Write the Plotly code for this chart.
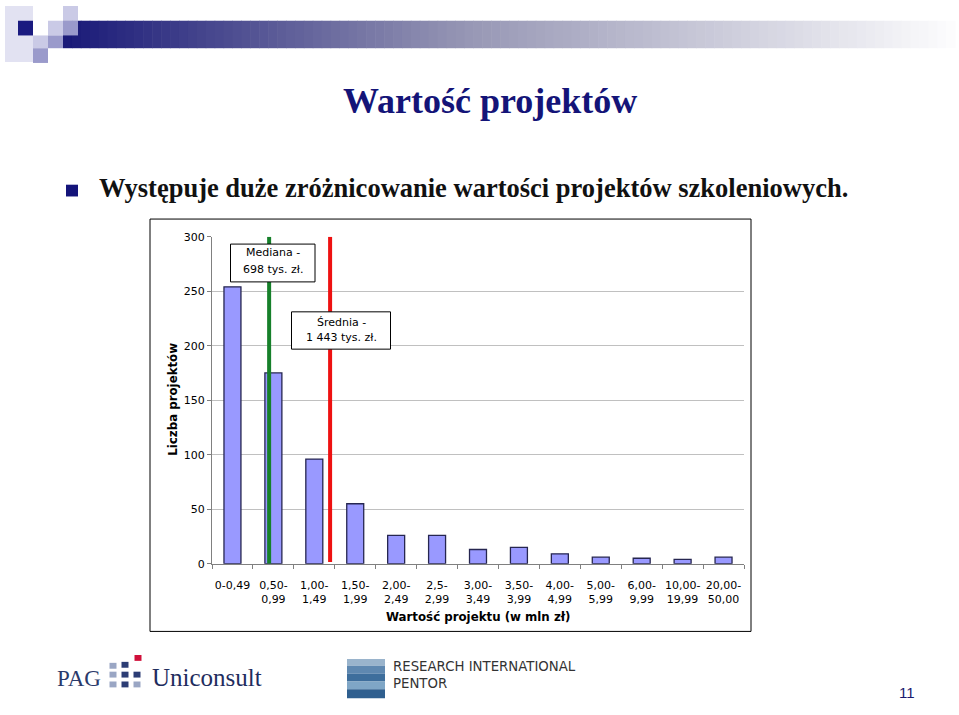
import plotly.graph_objects as go

# ---------------- data ----------------
categories = ["0-0,49", "0,50-0,99", "1,00-1,49", "1,50-1,99", "2,00-2,49", "2,5-2,99",
              "3,00-3,49", "3,50-3,99", "4,00-4,99", "5,00-5,99", "6,00-9,99",
              "10,00-19,99", "20,00-50,00"]
tick_labels = ["0-0,49", "0,50-<br>0,99", "1,00-<br>1,49", "1,50-<br>1,99", "2,00-<br>2,49",
               "2,5-<br>2,99", "3,00-<br>3,49", "3,50-<br>3,99", "4,00-<br>4,99",
               "5,00-<br>5,99", "6,00-<br>9,99", "10,00-<br>19,99", "20,00-<br>50,00"]
bin_low = [0, 0.5, 1.0, 1.5, 2.0, 2.5, 3.0, 3.5, 4.0, 5.0, 6.0, 10.0, 20.0]
bin_high = [0.5, 1.0, 1.5, 2.0, 2.5, 3.0, 3.5, 4.0, 5.0, 6.0, 10.0, 20.0, 50.0]
project_counts = [254, 175, 96, 55, 26, 26, 13, 15, 9, 6, 5, 4, 6]
y_ticks = [0, 50, 100, 150, 200, 250, 300]
median_mln = 0.698
mean_mln = 1.443
median_label = ["Mediana -", "698 tys. zł."]
mean_label = ["Średnia -", "1 443 tys. zł."]

W, H = 959, 715


def px(x):
    return x / W


def py(y):
    return 1 - y / H


def cat_pos(v):
    for i, (lo, hi) in enumerate(zip(bin_low, bin_high)):
        if lo <= v < hi:
            return i - 0.5 + (v - lo) / (hi - lo)
    return len(bin_low) - 0.5


median_x = cat_pos(median_mln)
mean_x = cat_pos(mean_mln)

fig = go.Figure()
fig.add_trace(go.Bar(
    x=categories, y=project_counts,
    marker=dict(color="#9999ff", line=dict(color="#262650", width=1.3)),
    hoverinfo="x+y", showlegend=False,
))

shapes = []

# chart frame
shapes.append(dict(type="rect", xref="paper", yref="paper", x0=px(150), x1=px(751),
                   y0=py(637), y1=py(217), line=dict(color="#000000", width=1),
                   fillcolor="white", layer="below"))

# median / mean lines
shapes.append(dict(type="line", xref="x", yref="y", x0=median_x, x1=median_x, y0=0, y1=300,
                   line=dict(color="#16802a", width=4), layer="above"))
shapes.append(dict(type="line", xref="x", yref="y", x0=mean_x, x1=mean_x, y0=1.5, y1=300,
                   line=dict(color="#ee1111", width=4), layer="above"))

# label boxes (drawn above the lines)
for x0, x1, y0, y1 in [(230.5, 315, 242.5, 281), (291.5, 390.5, 311.5, 349.5)]:
    shapes.append(dict(type="rect", xref="paper", yref="paper", x0=px(x0), x1=px(x1),
                       y0=py(y1), y1=py(y0), line=dict(color="black", width=1),
                       fillcolor="white", layer="above"))

# ---- top decoration: gradient bar ----
def lerp(a, b, t):
    return tuple(int(round(a[i] + (b[i] - a[i]) * t)) for i in range(3))


c0, cm, c1 = (26, 26, 120), (150, 150, 180), (252, 252, 253)
x_start, x_end, n = 63, 955, 100
step = (x_end - x_start) / n
for i in range(n):
    t = i / (n - 1)
    c = lerp(c0, cm, t / 0.45) if t < 0.45 else lerp(cm, c1, (t - 0.45) / 0.55)
    shapes.append(dict(type="rect", xref="paper", yref="paper",
                       x0=px(x_start + i * step), x1=px(x_start + (i + 1) * step + 0.6),
                       y0=py(43), y1=py(15), line=dict(width=0),
                       fillcolor="rgb(%d,%d,%d)" % c, layer="below"))

# left squares
sq = [
    (5, 33, 0, 57, "#e2e2f2"),
    (18, 33, 15, 30, "#1a1a80"),
    (33, 48, 30, 43, "#cacae6"),
    (33, 48, 43, 58, "#9a9acb"),
    (48, 63, 15, 30, "#cacae6"),
    (48, 63, 30, 43, "#9a9acb"),
    (63, 78, 0, 15, "#cacae6"),
    (63, 78, 15, 30, "#9a9acb"),
]
for x0, x1, y0, y1, col in sq:
    shapes.append(dict(type="rect", xref="paper", yref="paper", x0=px(x0), x1=px(x1),
                       y0=py(y1), y1=py(y0), line=dict(width=0), fillcolor=col, layer="below"))

# bullet square
shapes.append(dict(type="rect", xref="paper", yref="paper", x0=px(66), x1=px(78),
                   y0=py(194), y1=py(182), line=dict(width=0), fillcolor="#14147a", layer="below"))

# PAG logo dots
dots = [
    (113, 672, "#9aa6c4"), (125, 671, "#2c3d75"),
    (113, 681, "#9aa6c4"), (125, 681, "#2c3d75"), (137, 681, "#2c3d75"),
    (113, 691, "#9aa6c4"), (125, 691, "#2c3d75"), (137, 691, "#9aa6c4"),
    (138, 664, "#d0103a"),
]
for cx, cy, col in dots:
    shapes.append(dict(type="rect", xref="paper", yref="paper", x0=px(cx - 3.5), x1=px(cx + 3.5),
                       y0=py(cy + 3), y1=py(cy - 3), line=dict(width=0), fillcolor=col, layer="below"))

# Pentor picture
pic = [(665, 672, "#9ab4cc"), (672, 680, "#5f88b0"), (680, 688, "#3e6e9c"),
       (688, 696, "#7fa6c6"), (696, 705, "#2f5f8f")]
for y0, y1, col in pic:
    shapes.append(dict(type="rect", xref="paper", yref="paper", x0=px(347), x1=px(385),
                       y0=py(y1), y1=py(y0), line=dict(width=0), fillcolor=col, layer="below"))


def ann(text, x, y, size, color="black", family="DejaVu Sans", xanchor="center", **kw):
    d = dict(text=text, x=px(x), y=py(y), xref="paper", yref="paper", showarrow=False,
             xanchor=xanchor, yanchor="middle",
             font=dict(family=family, size=size, color=color))
    d.update(kw)
    return d


annotations = [
    ann("<b>Wartość projektów</b>", 490, 97, 36, "#141478", "Liberation Serif"),
    ann("<b>Występuje duże zróżnicowanie wartości projektów szkoleniowych.</b>", 97, 185,
        26.5, "#111111", "Liberation Serif", xanchor="left"),
    ann(median_label[0], 273, 251, 11),
    ann(median_label[1], 273, 268.5, 11),
    ann(mean_label[0], 341, 322, 11),
    ann(mean_label[1], 341, 338, 11),
    ann("<b>Liczba projektów</b>", 173, 401, 11.8, textangle=-90),
    ann("<b>Wartość projektu (w mln zł)</b>", 478, 622, 11.8),
    # logos
    ann("PAG", 55, 685, 23, "#2b3a6b", "Liberation Serif", xanchor="left"),
    ann("Uniconsult", 150, 684, 25, "#1f2d5e", "Liberation Serif", xanchor="left"),
    ann("RESEARCH INTERNATIONAL", 391, 673, 13.3, "#333333", xanchor="left"),
    ann("PENTOR", 391, 690, 13.3, "#333333", xanchor="left"),
    ann("11", 907, 699, 15, "#1a1a6e", "Liberation Sans"),
]

fig.update_layout(
    width=W, height=H,
    margin=dict(l=0, r=0, t=0, b=0),
    paper_bgcolor="white", plot_bgcolor="rgba(0,0,0,0)",
    bargap=0.585,
    shapes=shapes,
    annotations=annotations,
    xaxis=dict(domain=[px(212), px(744)], type="category",
               tickvals=categories, ticktext=tick_labels, tickangle=0,
               tickfont=dict(family="DejaVu Sans", size=11, color="black"),
               ticks="outside", ticklen=4, tickcolor="#808080", tickson="boundaries",
               ticklabelstandoff=11,
               showline=True, linecolor="#808080", linewidth=1, showgrid=False,
               range=[-0.5, 12.5], fixedrange=True),
    yaxis=dict(domain=[py(568), py(235)], range=[0, 300], tickvals=y_ticks,
               tickfont=dict(family="DejaVu Sans", size=11, color="black"),
               ticks="outside", ticklen=4, tickcolor="#808080",
               showline=True, linecolor="#808080", linewidth=1,
               showgrid=True, gridcolor="#c0c0c0", gridwidth=1, zeroline=False,
               fixedrange=True),
)

fig.write_html("out.html")
